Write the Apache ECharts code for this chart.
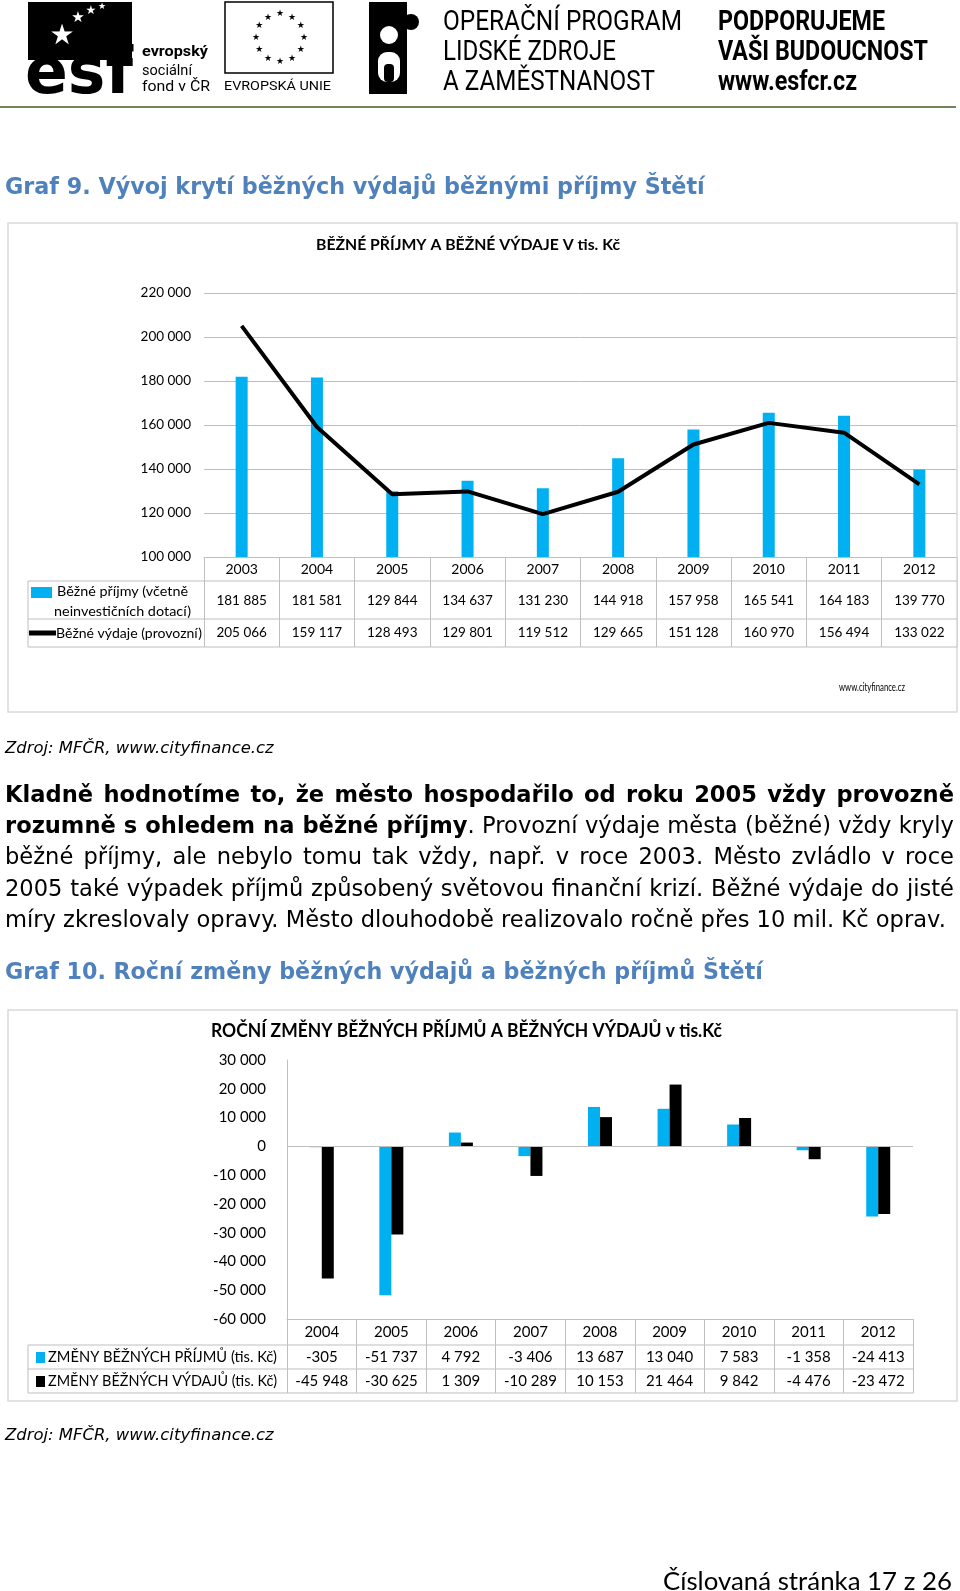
<!DOCTYPE html>
<html><head><meta charset="utf-8">
<script src="https://cdn.jsdelivr.net/npm/echarts@6/dist/echarts.min.js"></script>
<style>
html,body{margin:0;padding:0;background:#fff;}
#page{position:relative;width:960px;height:1591px;overflow:hidden;background:#fff;}
#chart{position:absolute;left:0;top:0;width:960px;height:1591px;}
.t{position:absolute;white-space:nowrap;line-height:30px;height:30px;font-family:'DejaVu Sans';color:#000;}
.t span{display:inline-block;}
.h{color:#4f81bd;font-weight:bold;font-size:20px;}
.z{font-style:italic;font-size:15px;}
.p{font-size:19px;}
</style></head><body>
<div id="page">
<div id="chart"></div>
<div class="t h" data-x="5" data-y="186" data-w="700"><span>Graf 9. Vývoj krytí běžných výdajů běžnými příjmy Štětí</span></div>
<div class="t z" data-x="5" data-y="748" data-w="269"><span>Zdroj: MFČR, www.cityfinance.cz</span></div>
<div class="t p" data-x="5" data-y="794"><span><b>Kladně hodnotíme to, že město hospodařilo od roku 2005 vždy provozně</b></span></div>
<div class="t p" data-x="5" data-y="825"><span><b>rozumně s ohledem na běžné příjmy</b>. Provozní výdaje města (běžné) vždy kryly</span></div>
<div class="t p" data-x="5" data-y="856"><span>běžné příjmy, ale nebylo tomu tak vždy, např. v roce 2003. Město zvládlo v roce</span></div>
<div class="t p" data-x="5" data-y="888"><span>2005 také výpadek příjmů způsobený světovou finanční krizí. Běžné výdaje do jisté</span></div>
<div class="t p last" data-x="5" data-y="919"><span>míry zkreslovaly opravy. Město dlouhodobě realizovalo ročně přes 10 mil. Kč oprav.</span></div>
<div class="t h" data-x="5" data-y="971" data-w="758"><span>Graf 10. Roční změny běžných výdajů a běžných příjmů Štětí</span></div>
<div class="t z" data-x="5" data-y="1435" data-w="269"><span>Zdroj: MFČR, www.cityfinance.cz</span></div>
<div class="t" data-x="663" data-y="1580" data-w="289" style="font-family:Lato;font-size:24px"><span>Číslovaná stránka 17 z 26</span></div>
</div>
<script>
// ---------- DATA ----------
const years1 = ['2003','2004','2005','2006','2007','2008','2009','2010','2011','2012'];
const prijmy = [181885,181581,129844,134637,131230,144918,157958,165541,164183,139770];
const vydaje = [205066,159117,128493,129801,119512,129665,151128,160970,156494,133022];
const years2 = ['2004','2005','2006','2007','2008','2009','2010','2011','2012'];
const zmenyPrijmu = [-305,-51737,4792,-3406,13687,13040,7583,-1358,-24413];
const zmenyVydaju = [-45948,-30625,1309,-10289,10153,21464,9842,-4476,-23472];
const legend1a = ['Běžné příjmy (včetně','neinvestičních dotací)'];
const legend1b = 'Běžné výdaje (provozní)';
const legend2a = 'ZMĚNY BĚŽNÝCH PŘÍJMŮ (tis. Kč)';
const legend2b = 'ZMĚNY BĚŽNÝCH VÝDAJŮ (tis. Kč)';
const title1 = 'BĚŽNÉ PŘÍJMY A BĚŽNÉ VÝDAJE V tis. Kč';
const title2 = 'ROČNÍ ZMĚNY BĚŽNÝCH PŘÍJMŮ A BĚŽNÝCH VÝDAJŮ v tis.Kč';

// ---------- HTML text layout ----------
(function(){
  const els = document.querySelectorAll('.t');
  els.forEach(el=>{el.style.left=el.dataset.x+'px';el.style.top=(el.dataset.y-15)+'px';});
  document.querySelectorAll('.t[data-w]').forEach(el=>{
    const w = el.firstElementChild.getBoundingClientRect().width;
    const fs = parseFloat(getComputedStyle(el).fontSize);
    el.style.fontSize = (fs*el.dataset.w/w)+'px';
  });
  const lines = [...document.querySelectorAll('.p')];
  const last = document.querySelector('.p.last');
  const w0 = last.firstElementChild.getBoundingClientRect().width;
  const fs0 = parseFloat(getComputedStyle(last).fontSize);
  const fs = fs0*941/w0;
  lines.forEach(l=>l.style.fontSize=fs+'px');
  lines.forEach(l=>{
    if(l===last) return;
    const sp = l.firstElementChild;
    const w = sp.getBoundingClientRect().width;
    const n = (sp.textContent.match(/ /g)||[]).length;
    sp.style.wordSpacing = ((949-w)/n)+'px';
  });
})();

// ---------- CHART ----------
const FONT = 'Lato';
const GRID = '#bfbfbf';
function fmt(v){const s=Math.abs(v).toString().replace(/\B(?=(\d{3})+(?!\d))/g,' ');return (v<0?'-':'')+s;}
const mctx = document.createElement('canvas').getContext('2d');
function tw(text, font){mctx.font=font;return mctx.measureText(text).width;}
function txt(text,x,y,o){
  o=o||{};
  const size=o.size||14, weight=o.weight||'normal', fam=o.family||FONT, st=o.style||'normal';
  const font = st+' '+weight+' '+size+'px "'+fam+'"';
  let sx=1;
  if(o.w){sx=o.w/tw(text,font);}
  return {type:'text',x:x,y:y,scaleX:sx,scaleY:1,silent:true,z:10,
    style:{text:text,fill:o.color||'#000',font:font,textAlign:o.align||'left',textVerticalAlign:'middle'}};
}
function line(x1,y1,x2,y2,c,w){return {type:'line',silent:true,z:5,shape:{x1:x1,y1:y1,x2:x2,y2:y2},style:{stroke:c||GRID,lineWidth:w||1}};}
function rect(x,y,w,h,fill,stroke,lw){return {type:'rect',silent:true,z:5,shape:{x:x,y:y,width:w,height:h},style:{fill:fill||'none',stroke:stroke||null,lineWidth:lw||1}};}

const chart = echarts.init(document.getElementById('chart'));
const axisLbl = {color:'#000',fontFamily:FONT,fontSize:14};
chart.setOption({
  animation:false,
  grid:[{left:204,right:3,top:293,bottom:1591-557},{left:287,right:47,top:1060,bottom:1591-1319}],
  xAxis:[
    {type:'category',gridIndex:0,data:years1,axisLine:{lineStyle:{color:GRID}},
     axisTick:{show:true,length:90,lineStyle:{color:GRID}},
     axisLabel:Object.assign({margin:12,interval:0,verticalAlign:'middle'},axisLbl)},
    {type:'category',gridIndex:1,data:years2,axisLine:{onZero:false,lineStyle:{color:GRID}},
     axisTick:{show:true,length:74,lineStyle:{color:GRID}},
     axisLabel:Object.assign({margin:13,interval:0,verticalAlign:'middle'},axisLbl,{fontSize:15})}
  ],
  yAxis:[
    {type:'value',gridIndex:0,min:100000,max:220000,interval:20000,axisLine:{show:false},axisTick:{show:false},
     splitLine:{lineStyle:{color:GRID}},axisLabel:Object.assign({formatter:fmt,margin:13},axisLbl,{fontSize:13.5})},
    {type:'value',gridIndex:1,min:-60000,max:30000,interval:10000,axisLine:{show:true,lineStyle:{color:GRID}},axisTick:{show:false},
     splitLine:{show:false},axisLabel:Object.assign({formatter:fmt,margin:21},axisLbl,{fontSize:15})}
  ],
  series:[
    {type:'bar',name:legend1a.join(' '),xAxisIndex:0,yAxisIndex:0,data:prijmy,barWidth:12,clip:true,itemStyle:{color:'#00b0f0'}},
    {type:'line',name:legend1b,xAxisIndex:0,yAxisIndex:0,data:vydaje,symbol:'none',showSymbol:false,z:3,lineStyle:{color:'#000',width:4}},
    {type:'bar',name:legend2a,xAxisIndex:1,yAxisIndex:1,data:zmenyPrijmu,barWidth:12,barGap:'0%',itemStyle:{color:'#00b0f0'},
     markLine:{silent:true,symbol:'none',label:{show:false},lineStyle:{color:GRID,type:'solid',width:1},data:[{yAxis:0}]}},
    {type:'bar',name:legend2b,xAxisIndex:1,yAxisIndex:1,data:zmenyVydaju,barWidth:12,barGap:'0%',itemStyle:{color:'#000'}}
  ]
});

function colX(ax,i){const p=chart.convertToPixel({xAxisIndex:ax},i);return Array.isArray(p)?p[0]:p;}
const G = [];
// header
G.push(rect(28,2,104,58,'#000'));
G.push(txt('esf',25,76,{size:64,weight:'bold',family:'DejaVu Sans',w:108}));
G.push(txt('★',62,37,{size:28,color:'#fff',family:'DejaVu Sans',align:'center'}));
G.push(txt('★',78,18,{size:15,color:'#fff',family:'DejaVu Sans',align:'center'}));
G.push(txt('★',91,11,{size:12,color:'#fff',family:'DejaVu Sans',align:'center'}));
G.push(txt('★',102,7,{size:9,color:'#fff',family:'DejaVu Sans',align:'center'}));
G.push(txt('evropský',142,52,{size:15,weight:'bold',family:'Roboto',w:66}));
G.push(txt('sociální',142,71,{size:15,family:'Roboto',w:50}));
G.push(txt('fond v ČR',142,87,{size:15,family:'Roboto',w:68}));
G.push(rect(225,2,108,71,'#fff','#000',1.5));
for(let k=0;k<12;k++){const a=k*Math.PI/6;G.push(txt('★',280+24*Math.sin(a),38-24*Math.cos(a),{size:9,family:'DejaVu Sans',align:'center'}));}
G.push(txt('EVROPSKÁ UNIE',224,87,{size:13,family:'Roboto',w:107}));
G.push(rect(369,2,38,92,'#000'));
G.push({type:'circle',silent:true,z:5,shape:{cx:411,cy:22,r:8},style:{fill:'#000'}});
G.push({type:'circle',silent:true,z:6,shape:{cx:389,cy:35,r:9},style:{fill:'#fff'}});
G.push({type:'rect',silent:true,z:6,shape:{x:378,y:52,width:22,height:30,r:9},style:{fill:'#fff'}});
G.push({type:'rect',silent:true,z:7,shape:{x:384,y:64,width:10,height:18,r:4},style:{fill:'#000'}});
G.push(txt('OPERAČNÍ PROGRAM',443,23,{size:28,family:'Roboto',w:239}));
G.push(txt('LIDSKÉ ZDROJE',443,53,{size:28,family:'Roboto',w:173}));
G.push(txt('A ZAMĚSTNANOST',443,83,{size:28,family:'Roboto',w:212}));
G.push(txt('PODPORUJEME',718,23,{size:28,weight:'bold',family:'Roboto',w:167}));
G.push(txt('VAŠI BUDOUCNOST',718,53,{size:28,weight:'bold',family:'Roboto',w:210}));
G.push(txt('www.esfcr.cz',718,83,{size:28,weight:'bold',family:'Roboto',w:139}));
G.push(line(0,107,956,107,'#748459',2));

// chart 1 box
G.push(rect(8,223,949,489,'none','#d9d9d9',1.5));
G.push(txt(title1,316,245,{size:15,weight:'bold',w:304}));
[581,619,647].forEach(y=>G.push(line(28,y,957,y)));
G.push(line(28,581,28,647));
years1.forEach((yr,i)=>{
  const x=colX(0,i);
  G.push(txt(fmt(prijmy[i]),x,601,{size:13.5,align:'center'}));
  G.push(txt(fmt(vydaje[i]),x,633,{size:13.5,align:'center'}));
});
G.push(rect(31,587,21,11,'#00b0f0'));
G.push(txt(legend1a[0],57,591,{size:14,w:131}));
G.push(txt(legend1a[1],54,611,{size:14,w:137}));
G.push(line(29,633,56,633,'#000',5));
G.push(txt(legend1b,56,633,{size:14,w:146}));
G.push(txt('www.cityfinance.cz',905,687,{size:11,align:'right',w:66}));

// chart 2 box
G.push(rect(8,1010,949,391,'none','#d9d9d9',1.5));
G.push(txt(title2,211,1031,{size:18,weight:'bold',w:511}));
[1345,1369,1393].forEach(y=>G.push(line(28,y,913,y)));
G.push(line(28,1345,28,1393));
years2.forEach((yr,i)=>{
  const x=colX(1,i);
  G.push(txt(fmt(zmenyPrijmu[i]),x,1357,{size:15,align:'center'}));
  G.push(txt(fmt(zmenyVydaju[i]),x,1381,{size:15,align:'center'}));
});
G.push(rect(36,1352,9,11,'#00b0f0'));
G.push(txt(legend2a,48,1357,{size:15,w:229}));
G.push(rect(36,1376,9,11,'#000'));
G.push(txt(legend2b,48,1381,{size:15,w:229}));

chart.setOption({graphic:{elements:G}});
</script>
</body></html>
